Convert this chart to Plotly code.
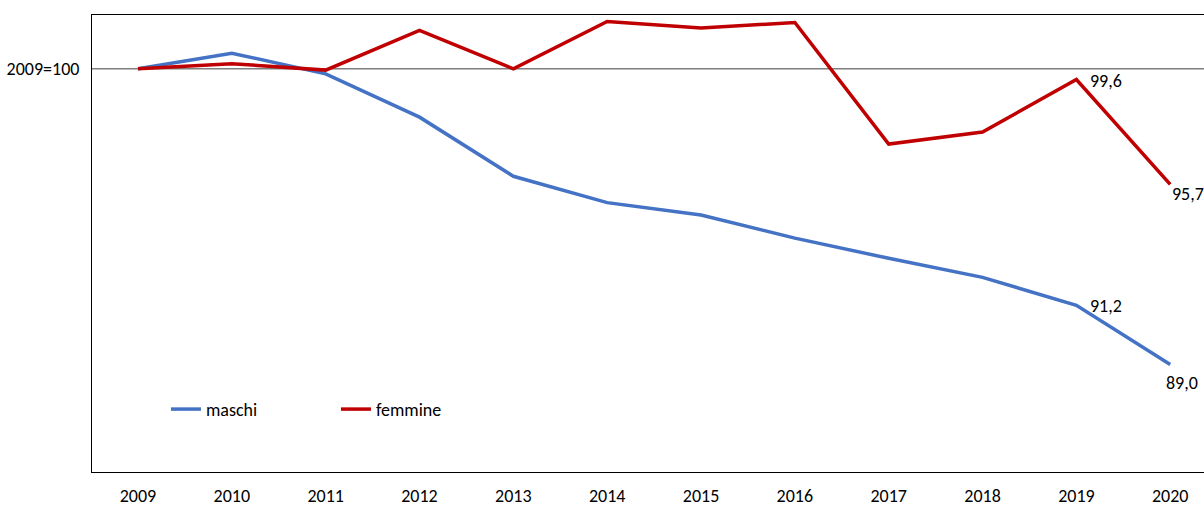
import plotly.graph_objects as go

years = [2009, 2010, 2011, 2012, 2013, 2014, 2015, 2016, 2017, 2018, 2019, 2020]
maschi = [100.0, 100.58, 99.81, 98.2, 96.0, 95.02, 94.56, 93.7, 92.95, 92.24, 91.2, 89.0]
femmine = [100.0, 100.19, 99.95, 101.43, 100.0, 101.76, 101.52, 101.72, 97.2, 97.65, 99.6, 95.7]
labels_m = [""] * 10 + ["91,2", "89,0"]
labels_f = [""] * 10 + ["99,6", "95,7"]
# label offsets (pixels) for the last two points of each series
shift_m = [(12, -1), (-6, -19)]
shift_f = [(12, -1), (0, -10)]

FONT = "Carlito, Calibri, Lato, sans-serif"

fig = go.Figure()
fig.add_trace(go.Scatter(
    x=years, y=maschi, name="maschi", mode="lines",
    line=dict(color="#4472C4", width=3.5),
))
fig.add_trace(go.Scatter(
    x=years, y=femmine, name="femmine", mode="lines",
    line=dict(color="#C00000", width=3.5),
))

annotations = []
for vals, labs, shifts in ((maschi, labels_m, shift_m), (femmine, labels_f, shift_f)):
    k = 0
    for x, y, t in zip(years, vals, labs):
        if t:
            dx, dy = shifts[k]
            k += 1
            annotations.append(dict(x=x, y=y, xref="x", yref="y", text=t, showarrow=False,
                                    xanchor="left", yanchor="middle", xshift=dx, yshift=dy,
                                    font=dict(family=FONT, size=18, color="#000000")))

fig.add_shape(type="line", xref="paper", yref="y", x0=0, x1=1, y0=100, y1=100,
              line=dict(color="#7f7f7f", width=1.3), layer="below")

fig.update_layout(
    width=1204, height=506,
    margin=dict(l=92, r=0, t=15, b=34),
    paper_bgcolor="white", plot_bgcolor="white",
    font=dict(family=FONT, size=18, color="#000000"),
    showlegend=True,
    annotations=annotations,
    legend=dict(orientation="h", x=0.0665, y=0.137, xanchor="left", yanchor="middle",
                bgcolor="rgba(0,0,0,0)", entrywidth=125, entrywidthmode="pixels",
                itemwidth=30, font=dict(family=FONT, size=18, color="#000000"),
                traceorder="normal"),
    xaxis=dict(range=[2008.51, 2020.36], tickvals=years, ticktext=[str(y) for y in years],
               showgrid=False, zeroline=False, showline=True, mirror=True, automargin=False,
               linecolor="#000000", linewidth=1, ticks="", ticklabelstandoff=7,
               tickfont=dict(family=FONT, size=18, color="#000000")),
    yaxis=dict(range=[85.0, 102.0], tickvals=[100], ticktext=["2009=100"],
               showgrid=False, zeroline=False, showline=True, mirror=False, automargin=False,
               linecolor="#000000", linewidth=1, ticks="", ticklabelstandoff=8,
               tickfont=dict(family=FONT, size=18, color="#000000")),
)

fig.write_html(
    "out.html",
    config={"displayModeBar": False},
    post_script="document.body.style.margin='0';document.body.style.overflow='hidden';"
                "document.documentElement.style.overflow='hidden';",
)
